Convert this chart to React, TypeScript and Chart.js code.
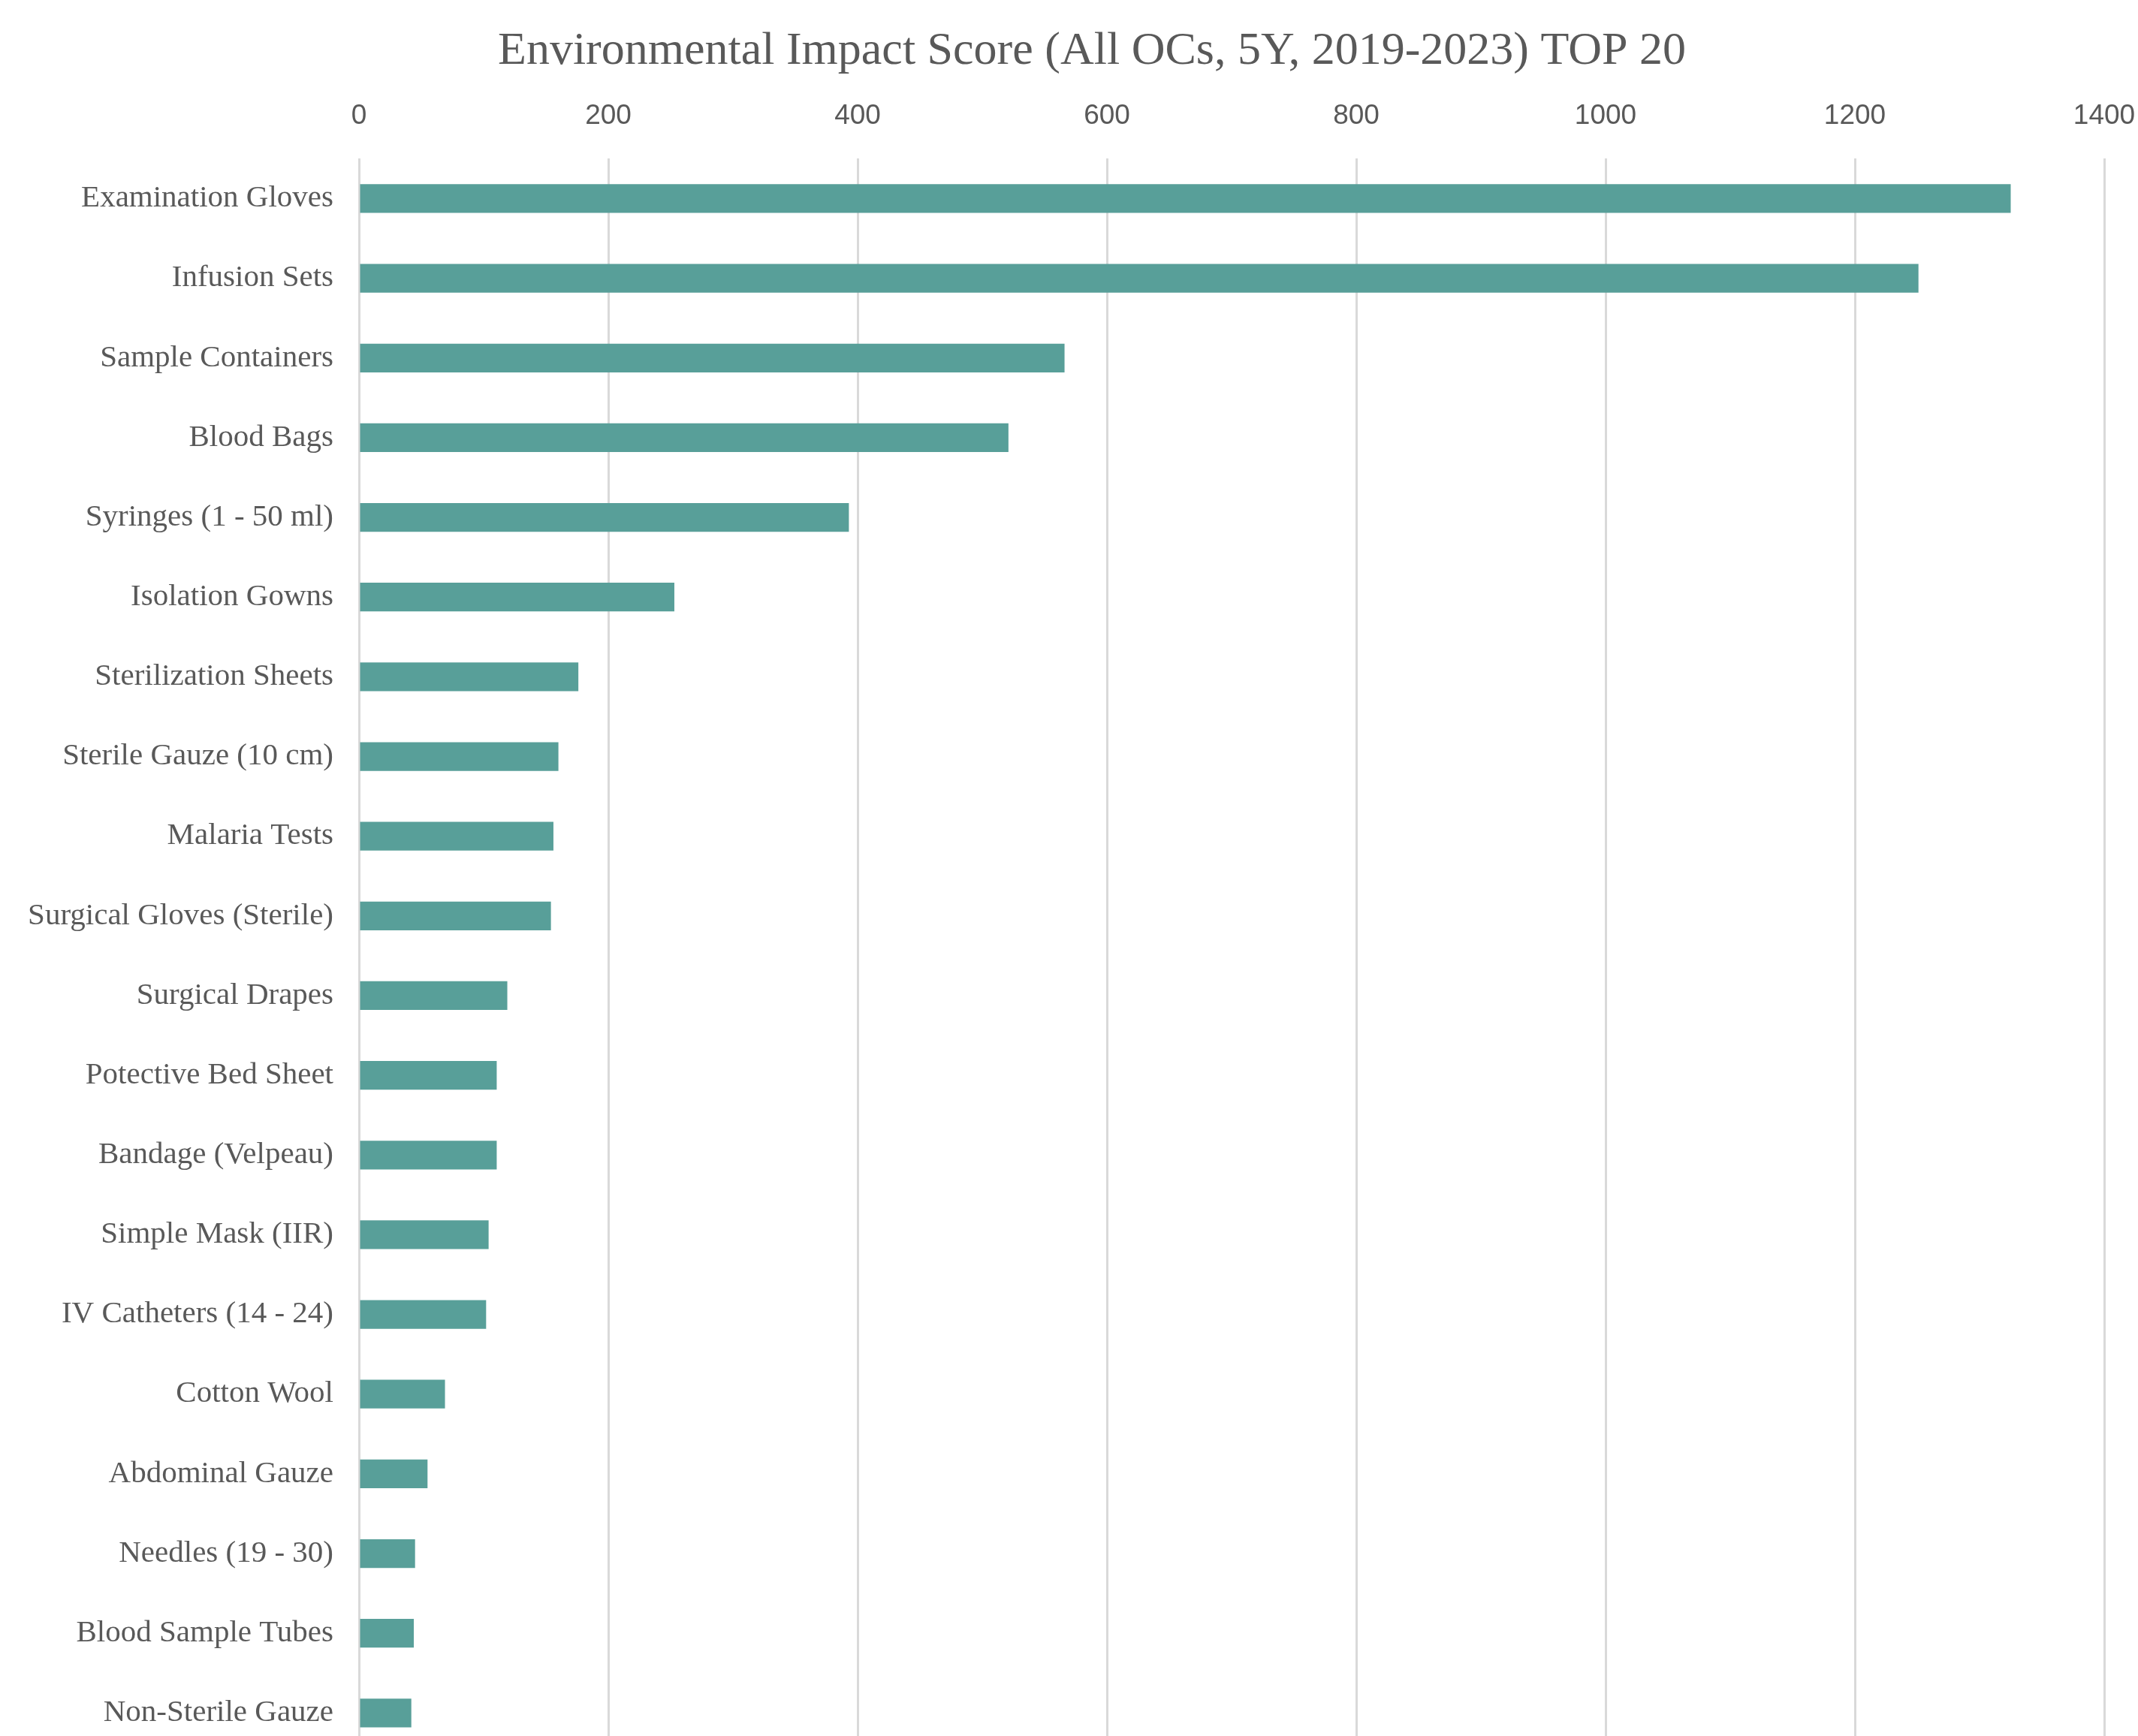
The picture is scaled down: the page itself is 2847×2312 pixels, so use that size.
import React, { useEffect, useRef } from "react";
import { Chart, registerables } from "chart.js";

Chart.register(...registerables);

const TITLE = "Environmental Impact Score (All OCs, 5Y, 2019-2023) TOP 20";

const categories: string[] = [
  "Examination Gloves",
  "Infusion Sets",
  "Sample Containers",
  "Blood Bags",
  "Syringes (1 - 50 ml)",
  "Isolation Gowns",
  "Sterilization Sheets",
  "Sterile Gauze (10 cm)",
  "Malaria Tests",
  "Surgical Gloves (Sterile)",
  "Surgical Drapes",
  "Potective Bed Sheet",
  "Bandage (Velpeau)",
  "Simple Mask (IIR)",
  "IV Catheters (14 - 24)",
  "Cotton Wool",
  "Abdominal Gauze",
  "Needles (19 - 30)",
  "Blood Sample Tubes",
  "Non-Sterile Gauze",
];

const scores: number[] = [
  1325, 1251, 566, 521, 393, 253, 176, 160, 156, 154, 119, 110.5, 110.5, 104,
  102, 69, 55, 45, 44, 42,
];

const axisMin = 0;
const axisMax = 1400;
const axisStep = 200;

const W = 2847;
const H = 2393;
const PAD_RIGHT = 45;
const PAD_TOP = 99;
const CHART_LEFT = 478;
const TITLE_X = 1454;
const TITLE_BASELINE = 85;
const TEXT_COLOR = "#595959";

const titlePlugin = {
  id: "customTitle",
  afterDraw(chart: any) {
    const ctx = chart.ctx;
    ctx.save();
    ctx.font = "normal 62px 'Liberation Serif', 'Times New Roman', serif";
    ctx.fillStyle = TEXT_COLOR;
    ctx.textAlign = "center";
    ctx.textBaseline = "alphabetic";
    ctx.fillText(TITLE, TITLE_X, TITLE_BASELINE);
    ctx.restore();
  },
};

export default function App() {
  const ref = useRef<HTMLCanvasElement | null>(null);

  useEffect(() => {
    if (!ref.current) return;
    const chart = new Chart(ref.current, {
      type: "bar",
      data: {
        labels: categories,
        datasets: [
          {
            data: scores,
            backgroundColor: "#589f99",
            borderWidth: 0,
            categoryPercentage: 1,
            barPercentage: 0.36,
          },
        ],
      },
      plugins: [titlePlugin],
      options: {
        indexAxis: "y",
        responsive: false,
        animation: false,
        devicePixelRatio: 1,
        layout: { padding: { left: 0, right: PAD_RIGHT, top: PAD_TOP, bottom: 0 } },
        plugins: {
          legend: { display: false },
          tooltip: { enabled: false },
          title: { display: false },
        },
        scales: {
          x: {
            position: "top",
            min: axisMin,
            max: axisMax,
            ticks: {
              stepSize: axisStep,
              color: TEXT_COLOR,
              padding: 34,
              font: { family: "'Liberation Sans', Arial, sans-serif", size: 37 },
              callback: (v: any) => String(v),
            },
            grid: { color: "#d9d9d9", lineWidth: 3, drawTicks: false },
            border: { display: false },
            afterFit: (scale: any) => {
              scale.paddingRight = 0;
              scale.paddingLeft = 0;
            },
          },
          y: {
            ticks: {
              color: TEXT_COLOR,
              padding: 34,
              autoSkip: false,
              font: { family: "'Liberation Serif', 'Times New Roman', serif", size: 41 },
            },
            grid: { display: false, drawTicks: false },
            border: { display: false },
            afterFit: (scale: any) => {
              scale.width = CHART_LEFT;
            },
          },
        },
      },
    });
    return () => chart.destroy();
  }, []);

  return (
    <div style={{ position: "absolute", left: 0, top: 0, width: W, height: 2312, overflow: "hidden", background: "#fff" }}>
      <canvas ref={ref} width={W} height={H} style={{ width: W, height: H, display: "block" }} />
    </div>
  );
}
